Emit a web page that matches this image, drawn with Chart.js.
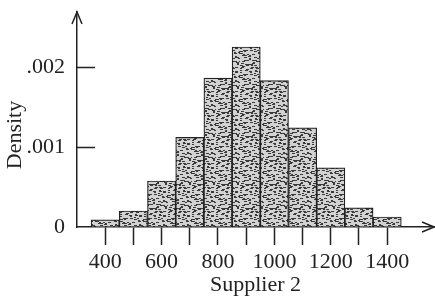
<!DOCTYPE html>
<html>
<head>
<meta charset="utf-8">
<script src="https://cdn.jsdelivr.net/npm/chart.js@4.4.1/dist/chart.umd.min.js"></script>
<style>
  html, body { margin: 0; padding: 0; background: #fff; }
  #wrap { width: 435px; height: 301px; }
</style>
</head>
<body>
<div id="wrap"><canvas id="histChart"></canvas></div>
<script>
// bin centres (Supplier 2) and density
const binCenters = [400, 500, 600, 700, 800, 900, 1000, 1100, 1200, 1300, 1400];
const densities = [0.00009, 0.0002, 0.000575, 0.00112, 0.00186, 0.00225, 0.00183, 0.00124, 0.00074, 0.00024, 0.000125];
const xTickValues = [400, 500, 600, 700, 800, 900, 1000, 1100, 1200, 1300, 1400];
const xTickLabels = { 400: '400', 600: '600', 800: '800', 1000: '1000', 1200: '1200', 1400: '1400' };
const yTickValues = [0, 0.001, 0.002];
const yTickLabels = { 0: '0', 0.001: '.001', 0.002: '.002' };
const yTitle = 'Density';

const ink = '#222';
const serif = 'Liberation Serif';

// stippled fill like the printed bars
function makeStipple(ctx) {
    const c = document.createElement('canvas');
    c.width = 24; c.height = 24;
    const g = c.getContext('2d');
    g.fillStyle = '#d2d2d2';
    g.fillRect(0, 0, 24, 24);
    g.fillStyle = '#3a3a3a';
    for (let i = 0; i < 80; i++) {
        const x = (i * 7 + (i * i) % 11) % 24;
        const y = (i * 13 + (i * i * 3) % 5) % 24;
        g.fillRect(x, y, 2 + (i % 2), 1);
    }
    return ctx.createPattern(c, 'repeat');
}

const axisDecor = {
    id: 'axisDecor',
    afterDraw(chart) {
        const ctx = chart.ctx;
        const { left, top, right, bottom } = chart.chartArea;
        const yScale = chart.scales.y;
        ctx.save();
        ctx.strokeStyle = ink;
        ctx.lineWidth = 1.5;
        ctx.beginPath();
        // arrow heads
        ctx.moveTo(left - 5, top + 12); ctx.lineTo(left, top); ctx.lineTo(left + 5, top + 12);
        ctx.moveTo(right - 12, bottom - 5); ctx.lineTo(right, bottom); ctx.lineTo(right - 12, bottom + 5);
        // inward y ticks
        yScale.ticks.forEach(t => {
            if (t.value > 0) {
                const py = Math.round(yScale.getPixelForValue(t.value)) + 0.5;
                ctx.moveTo(left, py);
                ctx.lineTo(left + 18, py);
            }
        });
        ctx.stroke();

        // y title sits a bit lower than the middle of the axis
        ctx.translate(yScale.left + 15, yScale.getPixelForValue(0.00115));
        ctx.rotate(-Math.PI / 2);
        ctx.fillStyle = ink;
        ctx.font = '22px "' + serif + '"';
        ctx.textAlign = 'center';
        ctx.textBaseline = 'middle';
        ctx.fillText(yTitle, 0, 0);
        ctx.restore();
    }
};

const canvas = document.getElementById('histChart');
const ctx = canvas.getContext('2d');

new Chart(ctx, {
    type: 'bar',
    data: {
        datasets: [{
            data: binCenters.map((x, i) => ({ x: x, y: densities[i] })),
            backgroundColor: makeStipple(ctx),
            borderColor: ink,
            borderWidth: 1.2,
            barPercentage: 1,
            categoryPercentage: 1
        }]
    },
    options: {
        responsive: true,
        maintainAspectRatio: false,
        animation: false,
        layout: { padding: { left: 0, right: 1, top: 12, bottom: 0 } },
        plugins: {
            legend: { display: false },
            tooltip: { enabled: false }
        },
        scales: {
            x: {
                type: 'linear',
                min: 300,
                max: 1566,
                offset: false,
                afterBuildTicks: scale => { scale.ticks = xTickValues.map(v => ({ value: v })); },
                afterFit: scale => { scale.height = 74; },
                grid: { offset: false, drawOnChartArea: false, drawTicks: true, tickLength: 18, tickColor: ink, tickWidth: 1.5 },
                border: { display: true, color: ink, width: 1.5 },
                ticks: {
                    autoSkip: false,
                    maxRotation: 0,
                    padding: 4,
                    color: ink,
                    font: { family: serif, size: 22 },
                    callback: v => xTickLabels[v] || ''
                },
                title: {
                    display: true,
                    text: 'Supplier 2',
                    color: ink,
                    font: { family: serif, size: 22 },
                    padding: { top: 0, bottom: 3 }
                }
            },
            y: {
                min: 0,
                max: 0.0026875,
                afterBuildTicks: scale => { scale.ticks = yTickValues.map(v => ({ value: v })); },
                afterFit: scale => {
                    scale.width = 77;
                    scale.paddingTop = 0;
                    scale.paddingBottom = 0;
                },
                grid: { drawOnChartArea: false, drawTicks: false },
                border: { display: true, color: ink, width: 1.5 },
                ticks: {
                    padding: 12,
                    color: ink,
                    font: { family: serif, size: 22 },
                    callback: v => yTickLabels[v] !== undefined ? yTickLabels[v] : ''
                },
                title: { display: false }
            }
        }
    },
    plugins: [axisDecor]
});
</script>
</body>
</html>
